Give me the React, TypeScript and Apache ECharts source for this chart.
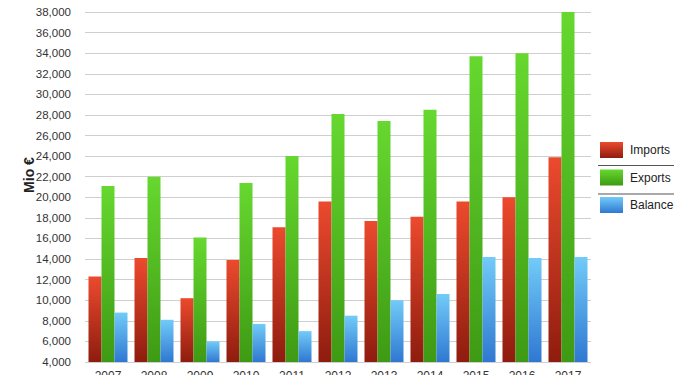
import React, { useEffect, useRef } from "react";
import * as echarts from "echarts";

const years = ["2007", "2008", "2009", "2010", "2011", "2012", "2013", "2014", "2015", "2016", "2017"];
const imports = [12300, 14100, 10200, 13900, 17100, 19600, 17700, 18100, 19600, 20000, 23900];
const exports = [21100, 22000, 16100, 21400, 24000, 28100, 27400, 28500, 33700, 34000, 38000];
const balance = [8800, 8100, 6000, 7700, 7000, 8500, 10000, 10600, 14200, 14100, 14200];
const seriesNames = ["Imports", "Exports", "Balance"];

const FONT = "'Liberation Sans', Arial, sans-serif";

const grad = (top: string, bottom: string) =>
  new echarts.graphic.LinearGradient(0, 0, 0, 1, [
    { offset: 0, color: top },
    { offset: 1, color: bottom },
  ]);

export default function App() {
  const ref = useRef<HTMLDivElement>(null);
  useEffect(() => {
    if (!ref.current) return;
    const chart = echarts.init(ref.current, undefined, { renderer: "svg" });
    const colors = [
      grad("#ec4a2e", "#8e1c0e"),
      grad("#66d82f", "#3e9a14"),
      grad("#72cbf8", "#2f78d2"),
    ];
    const data = [imports, exports, balance];
    chart.setOption({
      animation: false,
      backgroundColor: "#ffffff",
      grid: {
        left: 85,
        right: 109,
        top: 12,
        bottom: 13,
        containLabel: false,
        outerBoundsMode: "none",
      },
      legend: {
        orient: "vertical",
        left: 600,
        top: 142,
        padding: 0,
        itemWidth: 23,
        itemHeight: 16,
        itemGap: 11.5,
        icon: "rect",
        data: seriesNames,
        textStyle: { fontFamily: FONT, fontSize: 12, color: "#222", padding: [0, 0, 0, 2] },
      },
      xAxis: {
        type: "category",
        data: years,
        axisLine: { show: false },
        axisTick: { show: false },
        axisLabel: { margin: 8, fontFamily: FONT, fontSize: 12, color: "#333" },
      },
      yAxis: {
        type: "value",
        min: 4000,
        max: 38000,
        interval: 2000,
        axisLine: { show: false },
        axisTick: { show: false },
        axisLabel: {
          margin: 14,
          fontFamily: FONT,
          fontSize: 11.5,
          color: "#333",
          formatter: (v: number) => v.toLocaleString("en-US"),
        },
        splitLine: { lineStyle: { color: "#cfcfcf", width: 1 } },
      },
      graphic: [
        {
          type: "text",
          x: 29,
          y: 175,
          rotation: Math.PI / 2,
          style: {
            text: "Mio €",
            fontFamily: FONT,
            fontSize: 14,
            fontWeight: "bold",
            fill: "#222",
            align: "center",
            verticalAlign: "middle",
          },
        },
        {
          type: "line",
          shape: { x1: 598, y1: 165.5, x2: 674, y2: 165.5 },
          style: { stroke: "#555", lineWidth: 1.2 },
        },
        {
          type: "line",
          shape: { x1: 598, y1: 194, x2: 674, y2: 194 },
          style: { stroke: "#555", lineWidth: 1.2 },
        },
      ],
      series: seriesNames.map((name, i) => ({
        name,
        type: "bar",
        data: data[i],
        barWidth: 13,
        barGap: "0%",
        itemStyle: { color: colors[i] },
      })),
    });
    return () => chart.dispose();
  }, []);
  return (
    <div
      ref={ref}
      style={{ position: "fixed", left: 0, top: 0, width: 700, height: 375, background: "#fff" }}
    />
  );
}
